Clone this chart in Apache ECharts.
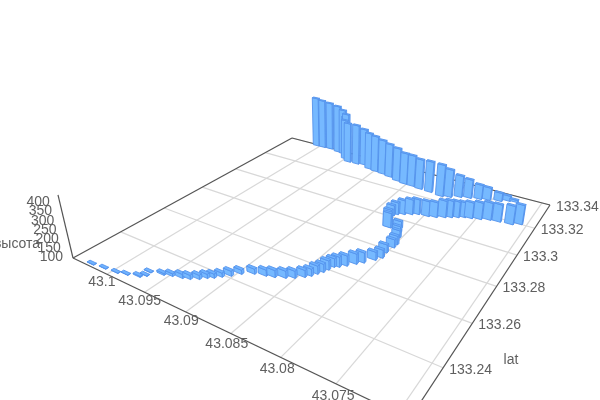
<!DOCTYPE html><html><head><meta charset="utf-8"><script src="https://cdn.jsdelivr.net/npm/echarts@6/dist/echarts.min.js"></script><style>html,body{margin:0;background:#fff}#c{width:600px;height:400px}</style></head><body><div id="c"></div><script>
var lonTicks=[43.1,43.095,43.09,43.085,43.08,43.075,43.07];
var lonLabels=['43.1','43.095','43.09','43.085','43.08','43.075'];
var latTicks=[133.24,133.26,133.28,133.3,133.32,133.34];
var latLabels=['133.24','133.26','133.28','133.3','133.32','133.34'];
var heightTicks=[100,150,200,250,300,350,400];
var lons=[43.1027,43.1012,43.0997,43.0987,43.0975,43.0971,43.0972,43.0959,43.0951,43.0941,43.0934,43.0927,43.0922,43.0917,43.0912,43.0906,43.0900,43.0890,43.0879,43.0871,43.0862,43.0855,
43.0848,43.0844,43.0841,43.0838,43.0836,43.0834,43.0830,43.0825,43.0819,43.0814,43.0807,43.0803,43.0804,43.0802,43.0802,43.0806,43.0810,43.0813,43.0823,43.0823,43.0832,43.0829,
43.0823,43.0816,43.0810,43.0799,43.0791,43.0783,43.0777,43.0771,43.0765,43.0758,43.0749,43.0740,43.0730,43.0717,43.0709,43.0728,43.0736,43.0744,43.0756,43.0765,43.0776,43.0786,
43.0796,43.0805,43.0820,43.0833,43.0844,43.0854,43.0865,43.0878,43.0889,43.0900,43.0910,43.0921,43.0931,43.0943,43.0951,43.0954,43.0953,43.0962,43.0971,43.0985,43.0996,43.1006];
var lats=[133.2225,133.2231,133.2236,133.2246,133.2259,133.2274,133.2293,133.2306,133.2316,133.2325,133.2334,133.2349,133.2366,133.2378,133.2395,133.2414,133.2439,133.2461,133.2472,133.2481,133.2496,133.2511,
133.2531,133.2547,133.2566,133.2584,133.2603,133.2625,133.2634,133.2652,133.2677,133.2696,133.2729,133.2752,133.2786,133.2826,133.2848,133.2891,133.2922,133.2948,133.2933,133.2935,133.3016,133.3030,
133.3044,133.3058,133.3072,133.3078,133.3087,133.3103,133.3116,133.3129,133.3142,133.3149,133.3160,133.3174,133.3180,133.3186,133.3204,133.3357,133.3351,133.3332,133.3317,133.3306,133.3293,133.3280,
133.3259,133.3248,133.3256,133.3259,133.3265,133.3266,133.3274,133.3290,133.3299,133.3304,133.3311,133.3334,133.3325,133.3323,133.3343,133.3362,133.3363,133.3384,133.3389,133.3399,133.3396,133.3395];
var heights=[102,102,102,102,106,102,102,110,115,123,123,123,123,123,123,128,123,128,134,139,139,139,
139,139,145,145,151,148,156,157,157,157,146,146,146,147,150,142,136,142,186,204,160,172,
184,190,190,190,190,200,200,195,190,195,200,203,203,210,215,113,132,151,177,189,215,234,
271,296,292,287,295,296,310,312,320,331,336,338,359,360,362,371,391,400,415,418,426,434];

var lonExtent=[43.1049,43.0691],latExtent=[133.221,133.34],zExtent=[100,440];
var A=[73,258],D=[409.5,419],C=[550,205],B=[292,138];
var dx1=D[0]-C[0],dx2=B[0]-C[0],sx=A[0]-D[0]+C[0]-B[0],dy1=D[1]-C[1],dy2=B[1]-C[1],sy=A[1]-D[1]+C[1]-B[1];
var det=dx1*dy2-dx2*dy1,g=(sx*dy2-dx2*sy)/det,h=(dx1*sy-sx*dy1)/det;
var a=D[0]-A[0]+g*D[0],b=B[0]-A[0]+h*B[0],c=A[0],d=D[1]-A[1]+g*D[1],e=B[1]-A[1]+h*B[1],f=A[1];
var lam=-0.0532,VX=340,VY=1380;
var lm=echarts.number.linearMap;
function U(lon){return lm(lon,lonExtent,[0,1]);}
function V(lat){return lm(lat,latExtent,[0,1]);}
function Z(val){return lm(val,zExtent,[0,1]);}
function proj(u,v,z){var w=g*u+h*v+1+lam*z;return [(a*u+b*v+c+lam*VX*z)/w,(d*u+e*v+f+lam*VY*z)/w];}
function depth(u,v){return g*u+h*v+1;}
var du=0.026,dv=0.009;
var order=lons.map(function(_,i){return i;}).sort(function(p,q){
  return depth(U(lons[q]),V(lats[q]))-depth(U(lons[p]),V(lats[p]));
});
var FACES=[[[0,0,1],[1,0,1],[1,1,1],[0,1,1]],[[1,0,0],[1,1,0],[1,1,1],[1,0,1]],[[0,1,0],[0,0,0],[0,0,1],[0,1,1]],[[1,1,0],[0,1,0],[0,1,1],[1,1,1]],[[0,0,0],[1,0,0],[1,0,1],[0,0,1]]];
var FILL=['#6fb3ff','#6cb1fe','#6cb1fe','#66abfc','#76b9ff'];
function area(p){var s=0;for(var i=0;i<p.length;i++){var n=p[(i+1)%p.length];s+=p[i][0]*n[1]-n[0]*p[i][1];}return s;}
function renderBar(params,api){
  var i=api.value(0),u=U(lons[i]),v=V(lats[i]),z=Z(heights[i]);
  var polys=FACES.map(function(fc){return fc.map(function(k){return proj(u+(k[0]-.5)*du,v+(k[1]-.5)*dv,k[2]*z);});});
  var sign=area(polys[0])>0?1:-1,ch=[];
  [1,2,3,4,0].forEach(function(n){
    if(area(polys[n])*sign<=0)return;
    ch.push({type:'polygon',shape:{points:polys[n]},style:{fill:FILL[n],stroke:'#5593ec',lineWidth:0.9}});
  });
  return {type:'group',children:ch};
}
function line(p,q,col,w){return {type:'line',shape:{x1:p[0],y1:p[1],x2:q[0],y2:q[1]},style:{stroke:col,lineWidth:w}};}
function txt(s,x,y,al){return {type:'text',style:{text:s,x:x,y:y,align:al||'center',verticalAlign:'middle',fill:'#5f5f5f',font:'14px "Liberation Sans", Arial, sans-serif'}};}
function renderFloor(){
  var ch=[];
  lonTicks.forEach(function(t){ch.push(line(proj(U(t),0,0),proj(U(t),1,0),'#d8d8d8',1.2));});
  latTicks.forEach(function(t){ch.push(line(proj(0,V(t),0),proj(1,V(t),0),'#d8d8d8',1.2));});
  var col='#555';
  ch.push(line(proj(0,0,0),proj(1,0,0),col,1.2));
  ch.push(line(proj(1,0,0),proj(1,1,0),col,1.2));
  ch.push(line(proj(1,1,0),proj(0,1,0),col,1.2));
  ch.push(line(proj(0,1,0),proj(0,0,0),col,1.2));
  ch.push(line(proj(0,0,0),proj(0,0,1),col,1.2));
  return {type:'group',children:ch};
}
function renderText(){
  var ch=[];
  lonLabels.forEach(function(s){var p=proj(U(+s),-0.04,0);ch.push(txt(s,p[0]+8,p[1]));});
  latLabels.forEach(function(s){var p=proj(1,V(+s),0);ch.push(txt(s,p[0]+6,p[1]+2,'left'));});
  heightTicks.forEach(function(t){var p=proj(0,0,Z(t));ch.push(txt(String(t),p[0]-10,p[1]-1,'right'));});
  ch.push(txt('высота',17,244));
  ch.push(txt('lat',511,360));
  return {type:'group',children:ch};
}
var chart=echarts.init(document.getElementById('c'));
chart.setOption({animation:false,backgroundColor:'#fff',series:[
 {type:'custom',coordinateSystem:'none',silent:true,data:[0],renderItem:renderFloor,z:1},
 {type:'custom',coordinateSystem:'none',silent:true,data:order.map(function(i){return [i];}),encode:{x:0},renderItem:renderBar,z:2,clip:false},
 {type:'custom',coordinateSystem:'none',silent:true,data:[0],renderItem:renderText,z:3}
]});
</script></body></html>
